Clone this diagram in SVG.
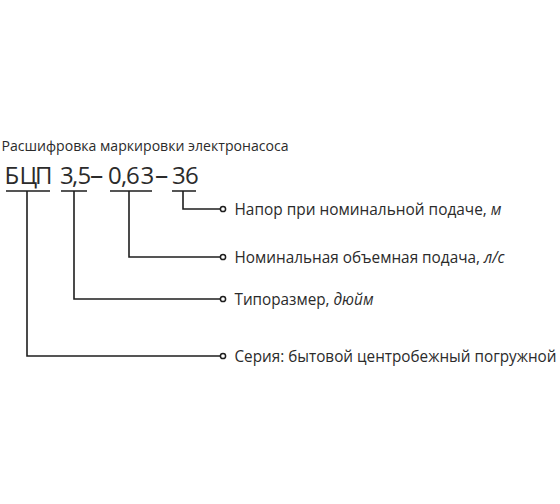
<svg xmlns="http://www.w3.org/2000/svg" width="560" height="504" viewBox="0 0 560 504">
<style>
text{font-family:"Open Sans","Noto Sans","DejaVu Sans",sans-serif;fill:#2b2b2b}
.title{font-size:14px}
.code{font-size:24px}
.dash{font-size:26.5px}
.lbl{font-size:15.4px}
.ln{fill:none;stroke:#1e1e1e;stroke-width:1.6}
.dot{fill:#fff;stroke:#1e1e1e;stroke-width:1.5}
</style>
<rect width="560" height="504" fill="#fff"/>
<text class="title" x="1.5" y="151" textLength="287" lengthAdjust="spacingAndGlyphs">Расшифровка маркировки электронасоса</text>
<g id="code">
<text class="code" y="183.5"><tspan x="4.5 19.5 35 50">БЦП </tspan><tspan x="60 72 77.5">3,5</tspan><tspan class="dash" x="90">–</tspan><tspan x="108 121 126 140.5">0,63</tspan><tspan class="dash" x="155">–</tspan><tspan x="172 185">36</tspan></text>
</g>
<g id="connectors">
<path class="ln" d="M6 191H50M61 191H87M110 191H152M172 191H196"/>
<path class="ln" d="M183 191V209H220"/>
<path class="ln" d="M129 191V257H220"/>
<path class="ln" d="M74 191V299H220"/>
<path class="ln" d="M27 191V356H220"/>
</g>
<g id="n1"><circle class="dot" cx="223" cy="209" r="2.6"/><text class="lbl" x="234.5" y="214.5" textLength="267" lengthAdjust="spacingAndGlyphs">Напор при номинальной подаче, <tspan font-style="italic">м</tspan></text></g>
<g id="n2"><circle class="dot" cx="223" cy="257" r="2.6"/><text class="lbl" x="234.5" y="262.5" textLength="270" lengthAdjust="spacingAndGlyphs">Номинальная объемная подача, <tspan font-style="italic">л/с</tspan></text></g>
<g id="n3"><circle class="dot" cx="223" cy="299" r="2.6"/><text class="lbl" x="234.5" y="304.5" textLength="139" lengthAdjust="spacingAndGlyphs">Типоразмер, <tspan font-style="italic">дюйм</tspan></text></g>
<g id="n4"><circle class="dot" cx="223" cy="356" r="2.6"/><text class="lbl" x="234.5" y="361.5" textLength="322" lengthAdjust="spacingAndGlyphs">Серия: бытовой центробежный погружной</text></g>
</svg>
